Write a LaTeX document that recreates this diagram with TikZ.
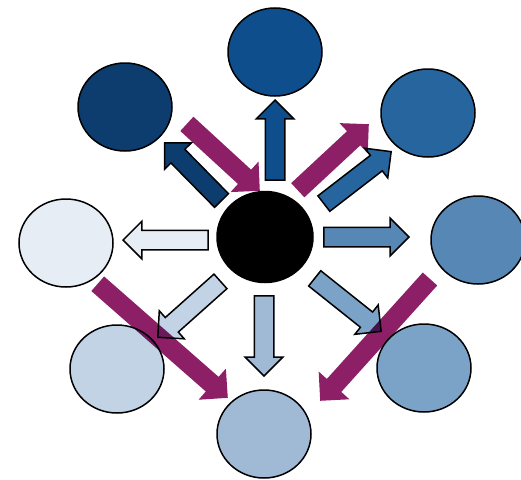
\documentclass[tikz,border=0pt]{standalone}
\usetikzlibrary{shapes.geometric,shapes.arrows}
\definecolor{shadeA}{HTML}{0D3C6E}
\definecolor{shadeB}{HTML}{0F4E8C}
\definecolor{shadeC}{HTML}{27659E}
\definecolor{shadeD}{HTML}{5787B5}
\definecolor{shadeE}{HTML}{7BA2C7}
\definecolor{shadeF}{HTML}{A0BAD6}
\definecolor{shadeG}{HTML}{C2D3E5}
\definecolor{shadeH}{HTML}{E6EDF5}
\definecolor{plum}{HTML}{8C1F66}
\begin{document}
\begin{tikzpicture}[x=1pt, y=-1pt,
    bubble/.style={ellipse, draw, line width=1.5pt, inner sep=0, minimum width=94, minimum height=88},
    blockarrow/.style={single arrow, draw, line width=1.5pt, inner sep=0, inner ysep=9,
        minimum width=36, single arrow head extend=9, sloped, allow upside down, pos=1, anchor=tip},
    pinkarrow/.style={single arrow, fill=plum, inner sep=0, inner ysep=9.5,
        minimum width=41, single arrow head extend=11, sloped, allow upside down, pos=1, anchor=tip}]
    \useasboundingbox (0,0) rectangle (521,479);
    % the ring of shades
    \node[bubble, fill=black, minimum width=96, minimum height=91] (hub) at (265,237) {};
    \node[bubble, fill=shadeA] (nw) at (125,107) {};
    \node[bubble, fill=shadeB] (n) at (275,52) {};
    \node[bubble, fill=shadeC] (ne) at (428,113) {};
    \node[bubble, fill=shadeD] (e) at (478,240) {};
    \node[bubble, fill=shadeE] (se) at (424,368) {};
    \node[bubble, fill=shadeF] (s) at (264,434) {};
    \node[bubble, fill=shadeG] (sw) at (117,369) {};
    \node[bubble, fill=shadeH] (w) at (66,243) {};
    % block arrows out of the hub
    \coordinate (tnw) at (223,202); \coordinate (hnw) at (164,142);
    \coordinate (tn) at (275,182);  \coordinate (hn) at (275,99);
    \coordinate (tne) at (322,205); \coordinate (hne) at (392,151);
    \coordinate (te) at (322,237);  \coordinate (he) at (410,237);
    \coordinate (tse) at (313,277); \coordinate (hse) at (382,332);
    \coordinate (ts) at (264,294);  \coordinate (hs) at (264,377);
    \coordinate (tsw) at (222,280); \coordinate (hsw) at (157,338);
    \coordinate (tw) at (210,240);  \coordinate (hw) at (122,240);
    \path (tnw) -- node[blockarrow, fill=shadeA, minimum height=81] (anw) {} (hnw);
    \path (tn) -- node[blockarrow, fill=shadeB, minimum height=80] (an) {} (hn);
    \path (tne) -- node[blockarrow, fill=shadeC, minimum height=85] (ane) {} (hne);
    \path (te) -- node[blockarrow, fill=shadeD, minimum height=85] (ae) {} (he);
    \path (tse) -- node[blockarrow, fill=shadeE, minimum height=85] (ase) {} (hse);
    \path (ts) -- node[blockarrow, fill=shadeF, minimum height=80] (as) {} (hs);
    \path (tsw) -- node[blockarrow, fill=shadeG, minimum height=84] (asw) {} (hsw);
    \path (tw) -- node[blockarrow, fill=shadeH, minimum height=85] (aw) {} (hw);
    % the purple flows
    \coordinate (p1) at (187,124); \coordinate (q1) at (260,191);
    \coordinate (p2) at (298,190); \coordinate (q2) at (369,124);
    \coordinate (p3) at (98,284);  \coordinate (q3) at (228,398);
    \coordinate (p4) at (430,279); \coordinate (q4) at (320,401);
    \begin{scope}[blend mode=multiply]
        \path (p1) -- node[pinkarrow, minimum height=99] (f1) {} (q1);
        \path (p2) -- node[pinkarrow, minimum height=97] (f2) {} (q2);
        \path (p3) -- node[pinkarrow, minimum height=173] (f3) {} (q3);
        \path (p4) -- node[pinkarrow, minimum height=164] (f4) {} (q4);
    \end{scope}
\end{tikzpicture}
\end{document}
